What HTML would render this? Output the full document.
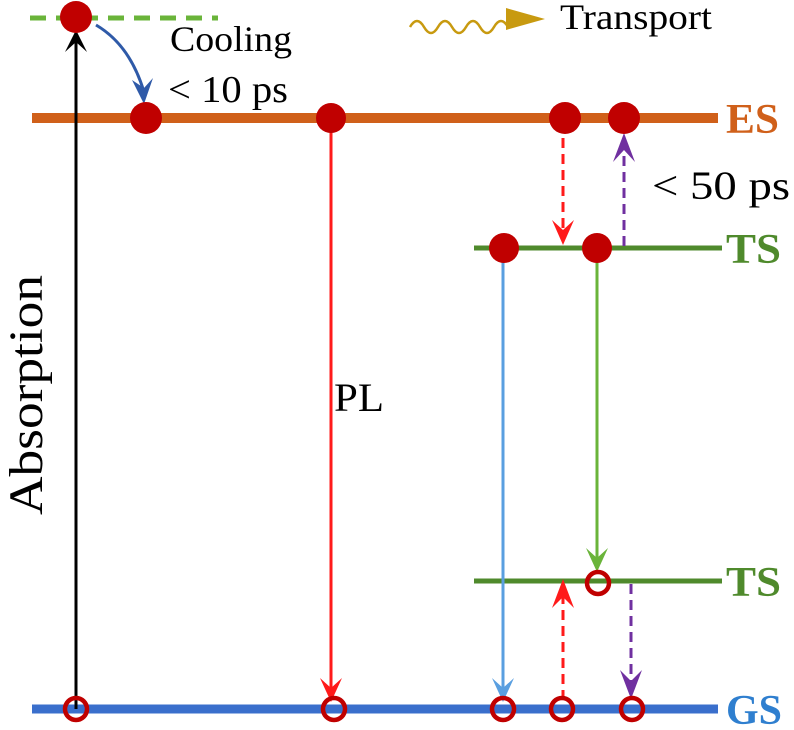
<!DOCTYPE html>
<html><head><meta charset="utf-8"><style>html,body{margin:0;padding:0;background:#fff}svg{display:block}text{font-family:"Liberation Serif",serif}</style></head>
<body>
<svg width="794" height="730" viewBox="0 0 794 730" xmlns="http://www.w3.org/2000/svg">
<line x1="32" y1="118" x2="718" y2="118" stroke="#d0601a" stroke-width="10"/>
<line x1="474" y1="248" x2="722" y2="248" stroke="#4f8a2c" stroke-width="5"/>
<line x1="474" y1="581" x2="722" y2="581" stroke="#4f8a2c" stroke-width="5"/>
<line x1="32" y1="709" x2="718" y2="709" stroke="#3a6fcc" stroke-width="9"/>
<line x1="30" y1="18" x2="218" y2="18" stroke="#6ab43a" stroke-width="5" stroke-dasharray="16,10"/>

<g stroke-width="3" fill="none">
<line x1="76" y1="709" x2="76" y2="30" stroke="#000"/>
<path d="M65,52 L76,30 L87,52 L76,42 Z" fill="#000" stroke="none"/>
<line x1="331" y1="118" x2="331" y2="695" stroke="#ff1a1a"/>
<path d="M320,678 L331,702 L342,678 L331,688 Z" fill="#ff1a1a" stroke="none"/>
<line x1="503" y1="248" x2="503" y2="695" stroke="#5a9fe0"/>
<path d="M492,678 L503,702 L514,678 L503,688 Z" fill="#5a9fe0" stroke="none"/>
<line x1="597" y1="248" x2="597" y2="565" stroke="#6ab43a"/>
<path d="M586,548 L597,572 L608,548 L597,558 Z" fill="#6ab43a" stroke="none"/>
<line x1="563" y1="138" x2="563" y2="238" stroke="#ff1a1a" stroke-dasharray="10,6"/>
<path d="M552,220 L563,245 L574,220 L563,230 Z" fill="#ff1a1a" stroke="none"/>
<line x1="624" y1="246" x2="624" y2="140" stroke="#7030a0" stroke-dasharray="10,6"/>
<path d="M613,162 L624,133 L635,162 L624,150 Z" fill="#7030a0" stroke="none"/>
<line x1="563" y1="700" x2="563" y2="592" stroke="#ff1a1a" stroke-dasharray="10,6"/>
<path d="M552,608 L563,579 L574,608 L563,597 Z" fill="#ff1a1a" stroke="none"/>
<line x1="631" y1="584" x2="631" y2="690" stroke="#7030a0" stroke-dasharray="10,6"/>
<path d="M620,670 L631,699 L642,670 L631,681 Z" fill="#7030a0" stroke="none"/>
<path d="M96,25 Q130,45 144,92" stroke="#2f5aa8"/>
<path d="M132,80 L144,104 L153,78 L144,88 Z" fill="#2f5aa8" stroke="none"/>
<path d="M410,27 q7,-12 14,0 t14,0 t14,0 t14,0 t14,0 t14,0 t14,0" stroke="#c89a10" stroke-width="2.5"/>
<path d="M506,8 L545,19 L506,30 Z" fill="#c89a10" stroke="none"/>
</g>

<g fill="#c00000">
<circle cx="76" cy="17" r="16"/>
<circle cx="146" cy="118" r="16"/>
<circle cx="331" cy="118" r="15"/>
<circle cx="565" cy="118" r="16"/>
<circle cx="624" cy="118" r="16"/>
<circle cx="504" cy="248" r="15"/>
<circle cx="597" cy="248" r="15"/>
</g>
<g fill="none" stroke="#c00000" stroke-width="4.5">
<circle cx="598" cy="583" r="11"/>
<circle cx="76" cy="709" r="11"/>
<circle cx="334" cy="709" r="11"/>
<circle cx="503" cy="709" r="11"/>
<circle cx="562" cy="709" r="11"/>
<circle cx="632" cy="709" r="11"/>
</g>

<g fill="#000">
<text x="170" y="51" font-size="36" textLength="122" lengthAdjust="spacingAndGlyphs">Cooling</text>
<text x="168" y="102" font-size="38" textLength="120" lengthAdjust="spacingAndGlyphs">&lt; 10 ps</text>
<text x="652" y="199" font-size="40" textLength="138" lengthAdjust="spacingAndGlyphs">&lt; 50 ps</text>
<text x="560" y="29" font-size="36" textLength="152" lengthAdjust="spacingAndGlyphs">Transport</text>
<text x="334" y="411" font-size="40" textLength="50" lengthAdjust="spacingAndGlyphs">PL</text>
<text transform="translate(42,515) rotate(-90)" font-size="48" textLength="240" lengthAdjust="spacingAndGlyphs">Absorption</text>
</g>
<g font-weight="bold" font-size="42">
<text x="726" y="133" fill="#d0601a" textLength="53" lengthAdjust="spacingAndGlyphs">ES</text>
<text x="726" y="263" fill="#4f8a2c" textLength="55" lengthAdjust="spacingAndGlyphs">TS</text>
<text x="726" y="596" fill="#4f8a2c" textLength="55" lengthAdjust="spacingAndGlyphs">TS</text>
<text x="726" y="724" fill="#2f7fcf" textLength="56" lengthAdjust="spacingAndGlyphs">GS</text>
</g>
</svg>
</body></html>
